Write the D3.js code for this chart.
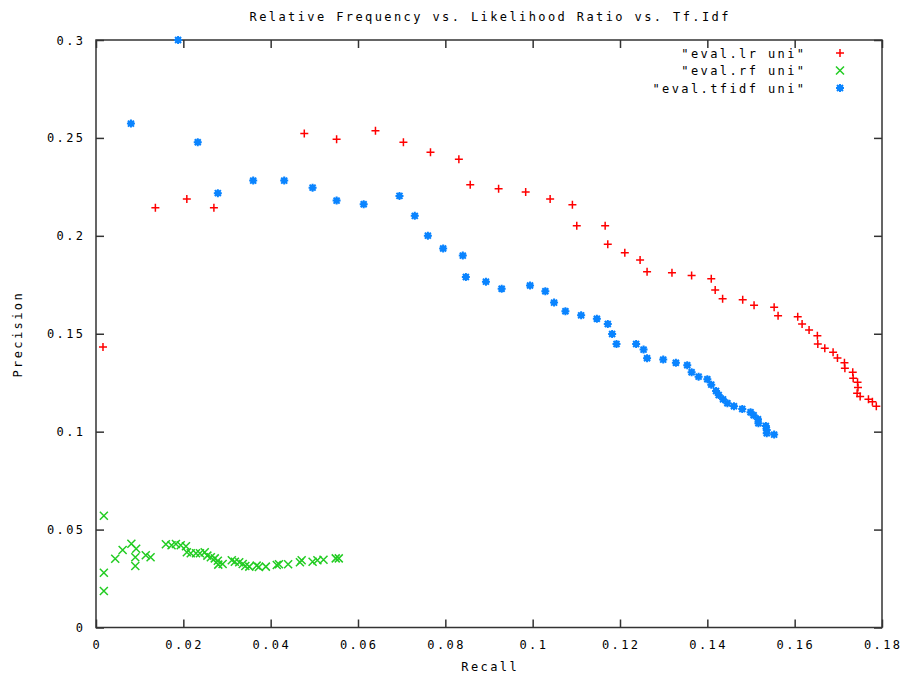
<!DOCTYPE html>
<html>
<head>
<meta charset="utf-8">
<script src="https://cdn.jsdelivr.net/npm/d3@7"></script>
<style>
body { margin: 0; background: #fff; }
text { font-family: "DejaVu Sans Mono", monospace; font-size: 12px; letter-spacing: 2.4px; fill: #000; }
.axis line, .axis path { stroke: #333; }
</style>
</head>
<body>
<div class="graphic"></div>
<script>
var width = 910;
var height = 677;

var xTicks = [0, 0.02, 0.04, 0.06, 0.08, 0.1, 0.12, 0.14, 0.16, 0.18];
var yTicks = [0, 0.05, 0.1, 0.15, 0.2, 0.25, 0.3];

// "eval.lr uni"
var lrRecall = [0.0016, 0.0136, 0.0208, 0.0270, 0.0477, 0.0551, 0.0640, 0.0704, 0.0766, 0.0831,
	0.0857, 0.0922, 0.0984, 0.1040, 0.1091, 0.1101, 0.1166, 0.1172, 0.1211, 0.1246,
	0.1262, 0.1319, 0.1364, 0.1409, 0.1418, 0.1435, 0.1481, 0.1507, 0.1553, 0.1562,
	0.1607, 0.1617, 0.1633, 0.1652, 0.1653, 0.1669, 0.1688, 0.1698, 0.1714, 0.1715,
	0.1733, 0.1734, 0.1744, 0.1745, 0.1743, 0.1750, 0.1769, 0.1778, 0.1787];
var lrPrecision = [0.1432, 0.2144, 0.2188, 0.2144, 0.2522, 0.2493, 0.2537, 0.2478, 0.2427, 0.2391,
	0.2261, 0.2240, 0.2224, 0.2188, 0.2159, 0.2051, 0.2051, 0.1957, 0.1913, 0.1877,
	0.1817, 0.1811, 0.1797, 0.1781, 0.1724, 0.1679, 0.1673, 0.1646, 0.1635, 0.1592,
	0.1587, 0.1550, 0.1519, 0.1490, 0.1448, 0.1426, 0.1406, 0.1376, 0.1352, 0.1324,
	0.1303, 0.1273, 0.1252, 0.1225, 0.1196, 0.1179, 0.1165, 0.1153, 0.1130];

// "eval.rf uni"
var rfRecall = [0.0018, 0.0018, 0.0018, 0.0044, 0.0061, 0.0081, 0.0092, 0.0090, 0.0090, 0.0114,
	0.0125, 0.0160, 0.0173, 0.0183, 0.0194, 0.0206, 0.0208, 0.0217, 0.0229, 0.0238,
	0.0249, 0.0255, 0.0263, 0.0272, 0.0279, 0.0280, 0.0290, 0.0311, 0.0318, 0.0328,
	0.0336, 0.0342, 0.0351, 0.0368, 0.0373, 0.0389, 0.0414, 0.0419, 0.0440, 0.0467,
	0.0471, 0.0496, 0.0507, 0.0521, 0.0549, 0.0556];
var rfPrecision = [0.0571, 0.0280, 0.0186, 0.0351, 0.0396, 0.0428, 0.0402, 0.0359, 0.0314, 0.0369,
	0.0359, 0.0425, 0.0420, 0.0426, 0.0420, 0.0415, 0.0384, 0.0379, 0.0379, 0.0379,
	0.0384, 0.0367, 0.0359, 0.0353, 0.0341, 0.0321, 0.0324, 0.0343, 0.0336, 0.0333,
	0.0324, 0.0314, 0.0311, 0.0316, 0.0309, 0.0311, 0.0319, 0.0323, 0.0323, 0.0333,
	0.0343, 0.0336, 0.0343, 0.0346, 0.0353, 0.0353];

// "eval.tfidf uni"
var tfRecall = [0.0188, 0.0080, 0.0233, 0.0279, 0.0360, 0.0431, 0.0496, 0.0551, 0.0613, 0.0695,
	0.0730, 0.0760, 0.0795, 0.0840, 0.0847, 0.0893, 0.0929, 0.0994, 0.1029, 0.1049,
	0.1075, 0.1111, 0.1147, 0.1172, 0.1182, 0.1192, 0.1237, 0.1254, 0.1262, 0.1299,
	0.1328, 0.1354, 0.1364, 0.1380, 0.1400, 0.1409, 0.1420, 0.1426, 0.1436, 0.1446,
	0.1461, 0.1480, 0.1499, 0.1506, 0.1516, 0.1517, 0.1534, 0.1536, 0.1536, 0.1553];
var tfPrecision = [0.3000, 0.2573, 0.2478, 0.2218, 0.2282, 0.2282, 0.2246, 0.2180, 0.2161, 0.2204,
	0.2102, 0.2001, 0.1935, 0.1899, 0.1790, 0.1766, 0.1730, 0.1746, 0.1717, 0.1659,
	0.1615, 0.1594, 0.1577, 0.1550, 0.1499, 0.1448, 0.1448, 0.1419, 0.1375, 0.1368,
	0.1352, 0.1339, 0.1303, 0.1281, 0.1268, 0.1240, 0.1208, 0.1187, 0.1165, 0.1145,
	0.1130, 0.1116, 0.1099, 0.1084, 0.1063, 0.1043, 0.1029, 0.1009, 0.0992, 0.0985];

var series = [
	{name: '"eval.lr uni"', x: lrRecall, y: lrPrecision, color: "#ff0000", shape: "plus"},
	{name: '"eval.rf uni"', x: rfRecall, y: rfPrecision, color: "#22cc22", shape: "cross"},
	{name: '"eval.tfidf uni"', x: tfRecall, y: tfPrecision, color: "#0a84ff", shape: "star"}
];

var plotLeft = 96, plotRight = 882, plotTop = 40, plotBottom = 627.5;
var spacing = 2.4; // trailing letter-spacing, compensated for anchored text

var svg = d3.select("div.graphic").append("svg")
	.attr("width", width)
	.attr("height", height);

var x = d3.scaleLinear().domain([0, 0.18]).range([plotLeft, plotRight]);
var y = d3.scaleLinear().domain([0, 0.3]).range([plotBottom, plotTop]);

function fmt(v){
	return d3.format("~g")(+v.toFixed(3));
}

// ticks on all four sides, pointing inwards
svg.append("g").attr("class", "axis")
	.attr("transform", "translate(0," + plotBottom + ")")
	.call(d3.axisTop(x).tickValues(xTicks).tickSize(8).tickFormat(""))
	.call(function(g){ g.select(".domain").remove(); });
svg.append("g").attr("class", "axis")
	.attr("transform", "translate(0," + plotTop + ")")
	.call(d3.axisBottom(x).tickValues(xTicks).tickSize(8).tickFormat(""))
	.call(function(g){ g.select(".domain").remove(); });
svg.append("g").attr("class", "axis")
	.attr("transform", "translate(" + plotLeft + ",0)")
	.call(d3.axisRight(y).tickValues(yTicks).tickSize(8).tickFormat(""))
	.call(function(g){ g.select(".domain").remove(); });
svg.append("g").attr("class", "axis")
	.attr("transform", "translate(" + plotRight + ",0)")
	.call(d3.axisLeft(y).tickValues(yTicks).tickSize(8).tickFormat(""))
	.call(function(g){ g.select(".domain").remove(); });
svg.selectAll(".axis line").attr("stroke-width", 1.5);

svg.append("rect")
	.attr("x", plotLeft).attr("y", plotTop)
	.attr("width", plotRight - plotLeft).attr("height", plotBottom - plotTop)
	.attr("fill", "none").attr("stroke", "#333").attr("stroke-width", 1.5);

// tick labels
svg.append("g").selectAll("text")
	.data(xTicks).enter().append("text")
	.attr("x", function(d){ return x(d) + spacing / 2; })
	.attr("y", 649)
	.attr("text-anchor", "middle")
	.text(fmt);
svg.append("g").selectAll("text")
	.data(yTicks).enter().append("text")
	.attr("x", 83 + spacing)
	.attr("y", function(d){ return y(d) + 4.5; })
	.attr("text-anchor", "end")
	.text(fmt);

svg.append("text").attr("x", 489 + spacing / 2).attr("y", 21).attr("text-anchor", "middle")
	.text("Relative Frequency vs. Likelihood Ratio vs. Tf.Idf");
svg.append("text").attr("x", 489 + spacing / 2).attr("y", 671).attr("text-anchor", "middle")
	.text("Recall");
svg.append("text").attr("transform", "translate(22," + (333 + spacing / 2) + ") rotate(-90)")
	.attr("text-anchor", "middle").text("Precision");

function markerPath(shape){
	var s = 4;
	if (shape == "plus"){
		return "M" + (-s) + ",0H" + s + "M0," + (-s) + "V" + s;
	}
	if (shape == "cross"){
		return "M" + (-s) + "," + (-s) + "L" + s + "," + s + "M" + (-s) + "," + s + "L" + s + "," + (-s);
	}
	return "M" + (-s) + ",0H" + s + "M0," + (-s) + "V" + s +
		"M" + (-3) + "," + (-3) + "L3,3M-3,3L3,-3";
}

function drawMarkers(g, sr, pts){
	g.selectAll("path")
		.data(pts)
		.enter()
		.append("path")
		.attr("transform", function(p){ return "translate(" + p[0] + "," + p[1] + ")"; })
		.attr("d", markerPath(sr.shape))
		.attr("fill", "none")
		.attr("stroke", sr.color)
		.attr("stroke-width", sr.shape == "star" ? 2 : 1.5);
	if (sr.shape == "star"){
		g.selectAll("circle")
			.data(pts)
			.enter()
			.append("circle")
			.attr("cx", function(p){ return p[0]; })
			.attr("cy", function(p){ return p[1]; })
			.attr("r", 3)
			.attr("fill", sr.color);
	}
}

series.forEach(function(sr, i){
	var pts = sr.x.map(function(v, j){ return [x(v), y(sr.y[j])]; });
	drawMarkers(svg.append("g"), sr, pts);

	// legend entry
	var ly = 53 + i * 17.5;
	svg.append("text").attr("x", 804 + spacing).attr("y", ly + 4.5)
		.attr("text-anchor", "end").text(sr.name);
	drawMarkers(svg.append("g"), sr, [[840, ly]]);
});
</script>
</body>
</html>
